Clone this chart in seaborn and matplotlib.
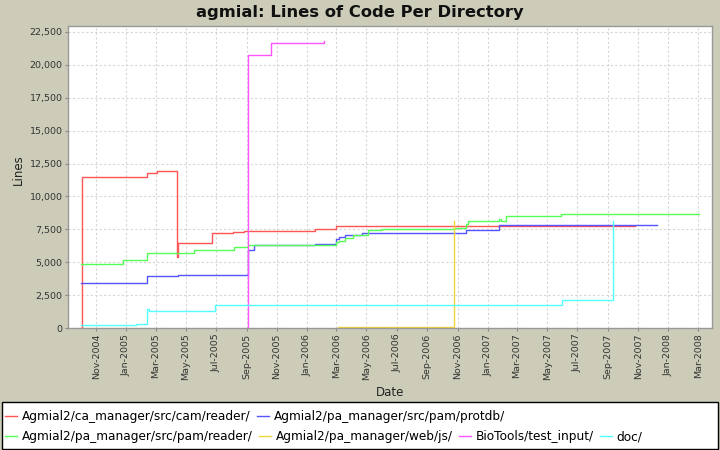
import matplotlib
matplotlib.use("Agg")
import matplotlib.pyplot as plt
import matplotlib.dates as mdates
from matplotlib.lines import Line2D
from matplotlib.patches import Rectangle
from matplotlib.ticker import FuncFormatter, MultipleLocator
import seaborn as sns
import pandas as pd

# ---- data ----
series_names = [
    "Agmial2/ca_manager/src/cam/reader/",
    "Agmial2/pa_manager/src/pam/protdb/",
    "Agmial2/pa_manager/src/pam/reader/",
    "Agmial2/pa_manager/web/js/",
    "BioTools/test_input/",
    "doc/",
]
colors = ["#FF5555", "#5555FF", "#55FF55", "#F2D53A", "#FF55FF", "#55FFFF"]

ca_reader_dates = ["2004-10-02", "2004-10-03", "2005-02-12", "2005-03-04", "2005-04-13",
                   "2005-04-15", "2005-06-23", "2005-08-05", "2005-08-27", "2006-01-17",
                   "2006-03-01", "2007-10-25"]
ca_reader_lines = [0, 11500, 11800, 11900, 5400, 6450, 7200, 7280, 7370, 7500, 7730, 7730]

protdb_dates = ["2004-10-02", "2005-02-12", "2005-04-15", "2005-09-04", "2005-09-16",
                "2006-01-17", "2006-03-01", "2006-03-07", "2006-03-19", "2006-04-22",
                "2006-11-18", "2007-01-24", "2007-12-08"]
protdb_lines = [3400, 3950, 4000, 5900, 6280, 6360, 6800, 6950, 7100, 7200, 7420, 7800, 7800]

pam_reader_dates = ["2004-10-02", "2004-12-25", "2005-02-12", "2005-05-18", "2005-08-07",
                    "2005-09-03", "2006-03-01", "2006-03-07", "2006-03-19", "2006-04-04",
                    "2006-05-04", "2006-06-01", "2006-10-25", "2006-11-18", "2006-11-22",
                    "2007-01-24", "2007-01-27", "2007-02-07", "2007-05-29", "2008-03-03"]
pam_reader_lines = [4900, 5140, 5680, 5900, 6130, 6280, 6500, 6650, 6820, 7080,
                    7430, 7500, 7600, 7930, 8100, 8260, 8100, 8480, 8640, 8640]

webjs_dates = ["2006-03-05", "2006-10-25"]
webjs_lines = [60, 8130]

biotools_dates = ["2005-09-03", "2005-09-04", "2005-10-20", "2006-02-04"]
biotools_lines = [0, 20720, 21640, 21800]

doc_dates = ["2004-10-02", "2005-01-20", "2005-02-12", "2005-02-16", "2005-06-29",
             "2007-05-31", "2007-09-10"]
doc_lines = [230, 300, 1420, 1320, 1720, 2100, 8130]

all_dates = [ca_reader_dates, protdb_dates, pam_reader_dates, webjs_dates, biotools_dates, doc_dates]
all_lines = [ca_reader_lines, protdb_lines, pam_reader_lines, webjs_lines, biotools_lines, doc_lines]

frames = []
for name, d, v in zip(series_names, all_dates, all_lines):
    frames.append(pd.DataFrame({"Date": pd.to_datetime(d), "Lines": v, "Directory": name}))
df = pd.concat(frames, ignore_index=True)

# ---- figure ----
bg = "#CCCCB9"
fig = plt.figure(figsize=(7.2, 4.5), dpi=100, facecolor=bg)
ax = fig.add_axes([68 / 720, 1 - 328 / 450, (712 - 68) / 720, (328 - 26) / 450])
ax.set_facecolor("white")

sns.lineplot(data=df, x="Date", y="Lines", hue="Directory", hue_order=series_names,
             palette=colors, estimator=None, drawstyle="steps-post", linewidth=1.0,
             legend=False, ax=ax)

ax.set_xlim(pd.Timestamp("2004-09-05"), pd.Timestamp("2008-03-29"))
ax.set_ylim(0, 22956)

ax.xaxis.set_major_locator(mdates.MonthLocator(bymonth=[1, 3, 5, 7, 9, 11]))
ax.xaxis.set_major_formatter(mdates.DateFormatter("%b-%Y"))
ax.yaxis.set_major_locator(MultipleLocator(2500))
ax.yaxis.set_major_formatter(FuncFormatter(lambda v, p: f"{int(v):,}"))

ax.tick_params(axis="x", labelrotation=90, labelsize=6.8, length=2, color="#888888", pad=2)
ax.tick_params(axis="y", labelsize=6.8, length=2, color="#888888", pad=2)
for lab in ax.get_xticklabels() + ax.get_yticklabels():
    lab.set_color("#333333")

ax.grid(True, color="#D6D6D6", linestyle=(0, (2, 2)), linewidth=0.8)
ax.set_axisbelow(True)
for s in ax.spines.values():
    s.set_color("#999999")
    s.set_linewidth(1.0)

ax.set_xlabel("Date", fontsize=8.5, color="#222222")
ax.xaxis.label.set_va("center")
ax.xaxis.set_label_coords(0.5, (328 - 392.5) / 302)
ax.set_ylabel("Lines", fontsize=8.5, color="#222222")
ax.yaxis.label.set_va("center")
ax.yaxis.set_label_coords((18 - 68) / 644, (328 - 170) / 302)

fig.text(0.5, 1 - 13 / 450, "agmial: Lines of Code Per Directory", ha="center", va="center",
         fontsize=11.8, fontweight="bold", color="#111111")

# ---- legend ----
fig.patches.append(Rectangle((2 / 720, 1 - 449 / 450), 716 / 720, 47 / 450,
                             transform=fig.transFigure, facecolor="white",
                             edgecolor="black", linewidth=1.0, zorder=0))
handles = [Line2D([], [], color=c, linewidth=1.0) for c in colors]
common = dict(loc="center left", frameon=False, fontsize=8.7, handlelength=1.0,
              handletextpad=0.4, columnspacing=0.5, borderpad=0, borderaxespad=0)
leg1 = fig.legend(handles[:2], series_names[:2], ncol=2,
                  bbox_to_anchor=(5 / 720, 1 - 416.5 / 450), **common)
leg2 = fig.legend(handles[2:], series_names[2:], ncol=4,
                  bbox_to_anchor=(5 / 720, 1 - 436.5 / 450), **common)

fig.savefig("out.png", dpi=100, facecolor=bg)
